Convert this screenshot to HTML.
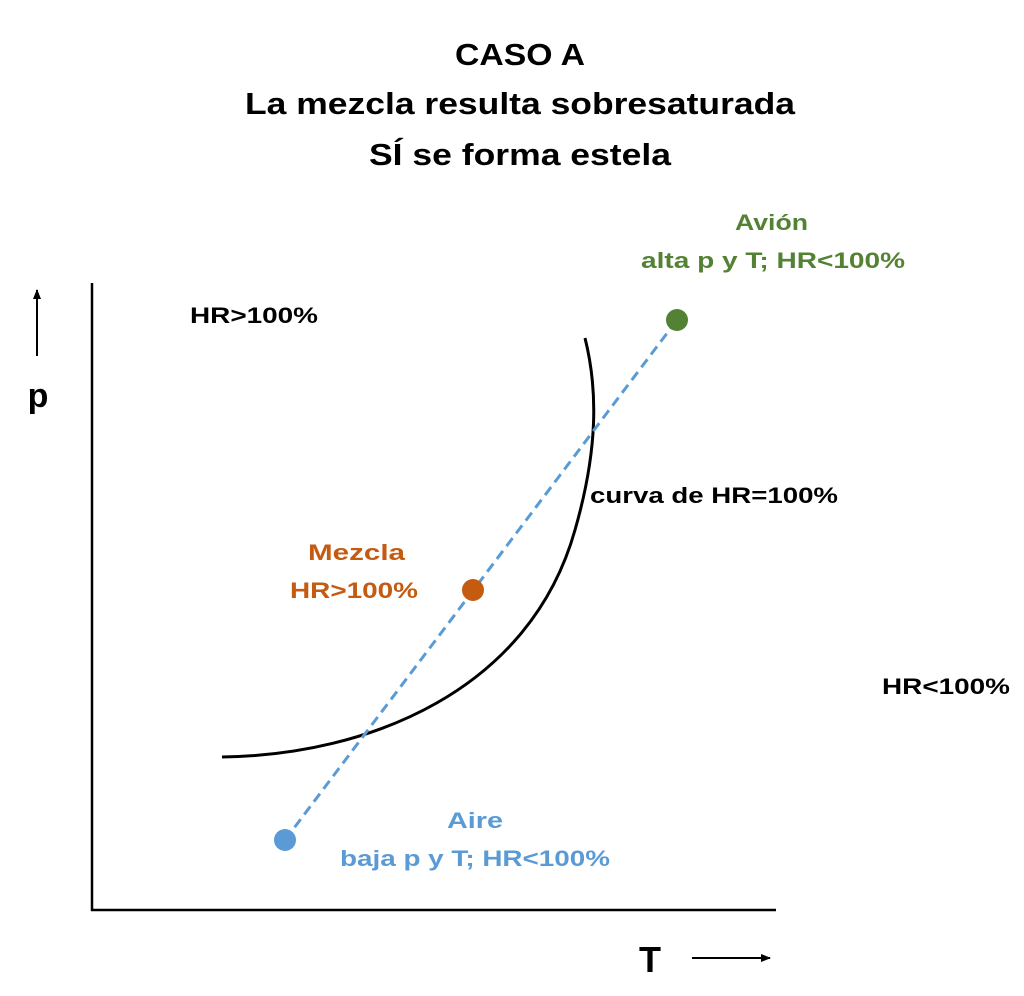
<!DOCTYPE html>
<html><head><meta charset="utf-8"><style>
html,body{margin:0;padding:0;background:#fff;}
svg{display:block;}
text{font-family:"Liberation Sans",Arial,sans-serif;font-weight:bold;}
</style></head><body>
<svg width="1024" height="996" viewBox="0 0 1024 996" xmlns="http://www.w3.org/2000/svg">
<defs>
<marker id="ah" markerWidth="10" markerHeight="8" refX="9" refY="4" orient="auto" markerUnits="userSpaceOnUse">
<path d="M0,0 L10,4 L0,8 z" fill="#000"/>
</marker>
</defs>
<g fill="#000" font-size="31" text-anchor="middle">
<text x="520" y="65" textLength="130" lengthAdjust="spacingAndGlyphs">CASO A</text>
<text x="520" y="114" textLength="550" lengthAdjust="spacingAndGlyphs">La mezcla resulta sobresaturada</text>
<text x="520" y="165" textLength="302" lengthAdjust="spacingAndGlyphs">SÍ se forma estela</text>
</g>
<line x1="92" y1="283" x2="92" y2="911" stroke="#000" stroke-width="2.5"/>
<line x1="91" y1="910" x2="776" y2="910" stroke="#000" stroke-width="2.5"/>
<path d="M222,757 C370,755 530,690 575,530 C598,450 598,390 585,338" fill="none" stroke="#000" stroke-width="3"/>
<line x1="285" y1="840" x2="677" y2="320" stroke="#5b9bd5" stroke-width="3" stroke-dasharray="10,6"/>
<circle cx="677" cy="320" r="11" fill="#548235"/>
<circle cx="473" cy="590" r="11" fill="#c55a11"/>
<circle cx="285" cy="840" r="11" fill="#5b9bd5"/>
<g font-size="22">
<text x="190" y="323" textLength="128" lengthAdjust="spacingAndGlyphs" fill="#000">HR&gt;100%</text>
<text x="590" y="503" textLength="248" lengthAdjust="spacingAndGlyphs" fill="#000">curva de HR=100%</text>
<text x="882" y="694" textLength="128" lengthAdjust="spacingAndGlyphs" fill="#000">HR&lt;100%</text>
<text x="308" y="560" textLength="97" lengthAdjust="spacingAndGlyphs" fill="#c55a11">Mezcla</text>
<text x="290" y="598" textLength="128" lengthAdjust="spacingAndGlyphs" fill="#c55a11">HR&gt;100%</text>
<text x="735" y="230" textLength="73" lengthAdjust="spacingAndGlyphs" fill="#548235">Avión</text>
<text x="641" y="268" textLength="264" lengthAdjust="spacingAndGlyphs" fill="#548235">alta p y T; HR&lt;100%</text>
<text x="447" y="828" textLength="56" lengthAdjust="spacingAndGlyphs" fill="#5b9bd5">Aire</text>
<text x="340" y="866" textLength="270" lengthAdjust="spacingAndGlyphs" fill="#5b9bd5">baja p y T; HR&lt;100%</text>
</g>
<text x="38" y="407" font-size="34" text-anchor="middle">p</text>
<line x1="37" y1="356" x2="37" y2="290" stroke="#000" stroke-width="2" marker-end="url(#ah)"/>
<text x="650" y="972" font-size="36" text-anchor="middle">T</text>
<line x1="692" y1="958" x2="770" y2="958" stroke="#000" stroke-width="2" marker-end="url(#ah)"/>
</svg>
</body></html>
